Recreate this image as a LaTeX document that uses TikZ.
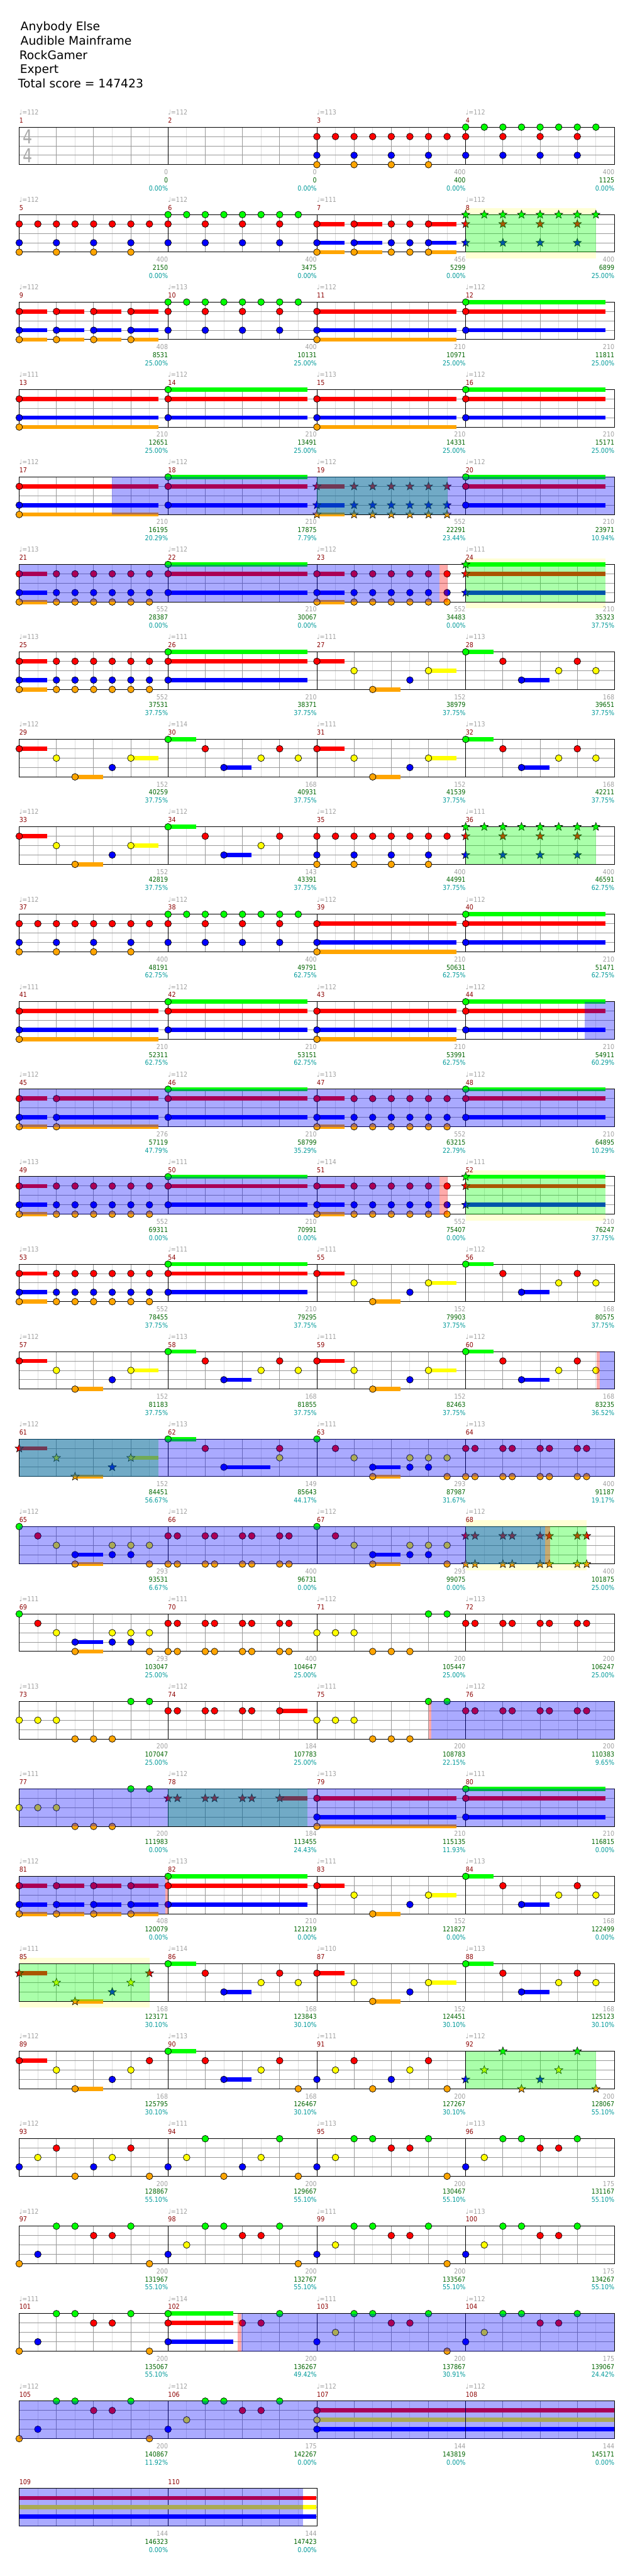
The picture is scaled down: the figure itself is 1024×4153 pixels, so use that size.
\documentclass[tikz,border=0pt]{standalone}
\usepackage{fontspec}
\setmainfont{DejaVu Sans}
\newfontfamily\numfont[FakeStretch=0.88]{DejaVu Sans}
\newfontfamily\sigfont[FakeStretch=0.78]{DejaVu Sans}
\usetikzlibrary{shapes.geometric}

\definecolor{lane0}{RGB}{0,255,0}
\definecolor{lane1}{RGB}{255,0,0}
\definecolor{lane2}{RGB}{255,255,0}
\definecolor{lane3}{RGB}{0,0,255}
\definecolor{lane4}{RGB}{255,165,0}
\definecolor{gridDark}{RGB}{153,153,153}
\definecolor{gridLight}{RGB}{221,221,221}
\definecolor{txtGray}{RGB}{160,160,160}
\definecolor{sigGray}{RGB}{170,170,170}
\definecolor{barRed}{RGB}{139,0,0}
\definecolor{scoreGreen}{RGB}{0,100,0}
\definecolor{pctCyan}{RGB}{0,153,153}
\definecolor{spYellow}{RGB}{255,255,213}

\newcommand\numsize{\numfont\fontsize{11}{13}\selectfont}
\newcommand\lanesep{15.125}

% note patterns: position (eighths) / {lanes}
\def\pRedEighths{0/{1,3,4},1/{1},2/{1,3,4},3/{1},4/{1,3,4},5/{1},6/{1,3,4},7/{1}}
\def\pGreenEighths{0/{0,1,3},1/{0},2/{0,1,3},3/{0},4/{0,1,3},5/{0},6/{0,1,3},7/{0}}
\def\pStab{0/{1,3,4},2/{1,3,4},4/{1,3,4},5/{1,3,4},6/{1,3,4}}
\def\sStab{0/1.5/{1,3,4},2/3.5/{1,3,4},6/7.5/{1,3,4}}
\def\pQuarters{0/{1,3,4},2/{1,3,4},4/{1,3,4},6/{1,3,4}}
\def\sQuarters{0/1.5/{1,3,4},2/3.5/{1,3,4},4/5.5/{1,3,4},6/7.5/{1,3,4}}
\def\pLowChord{0/{1,3,4}}
\def\sLowChord{0/7.5/{1,3,4}}
\def\pHighChord{0/{0,1,3}}
\def\sHighChord{0/7.5/{0,1,3}}
\def\pRun{0/{1,3,4},2/{1,3,4},3/{1,3,4},4/{1,3,4},5/{1,3,4},6/{1,3,4},7/{1,3,4}}
\def\sRun{0/1.5/{1,3,4}}
\def\pArpA{0/{1},2/{2},3/{4},5/{3},6/{2}}
\def\sArpA{0/1.5/{1},3/4.5/{4},6/7.5/{2}}
\def\pArpB{0/{0},2/{1},3/{3},5/{2},6/{1},7/{2}}
\def\pArpBshort{0/{0},2/{1},3/{3},5/{2},6/{1}}
\def\sArpB{0/1.5/{0},3/4.5/{3}}
\def\pArpC{0/{1},2/{2},3/{4},5/{3},6/{2},7/{1}}
\def\sArpC{0/1.5/{1},3/4.5/{4}}
\def\pSync{0/{0},1/{1},2/{2},3/{3,4},5/{2,3},6/{2,3},7/{2,4}}
\def\sSync{3/4.5/{3,4}}
\def\pDouble{0/{1,4},0.5/{1,4},2/{1,4},2.5/{1,4},4/{1,4},4.5/{1,4},6/{1,4},6.5/{1,4}}
\def\pRedDouble{0/{1},0.5/{1},2/{1},2.5/{1},4/{1},4.5/{1},6/{1},6.5/{1}}
\def\pRedTail{0/{1},0.5/{1},2/{1},2.5/{1},4/{1},4.5/{1},6/{1}}
\def\pTriple{0/{2},1/{2},2/{2},3/{4},4/{4},5/{4},6/{0},7/{0}}
\def\pWalkR{0/{3},1/{2},2/{1},3/{4},4/{3},5/{2},6/{1},7/{4}}
\def\pWalkG{0/{3},1/{2},2/{0},3/{4},4/{3},5/{2},6/{0},7/{4}}
\def\pHighA{0/{3},1/{2},2/{0},3/{0},4/{1},5/{1},6/{0},7/{4}}
\def\pHighB{0/{3},1/{2},2/{0},3/{0},4/{1},5/{1},6/{0}}
\def\pHighC{0/{4},1/{3},2/{0},3/{0},4/{1},5/{1},6/{0},7/{4}}

% #1 bar, #2 tempo, #3 points, #4 score, #5 percent, #6 notes, #7 star notes, #8 holds
\newcommand\measure[8]{%
  \pgfmathtruncatemacro\mcol{mod(#1-1,4)}%
  \pgfmathtruncatemacro\mrow{(#1-1)/4}%
  \pgfmathsetmacro\mx{31+240*\mcol}%
  \pgfmathsetmacro\my{205+141*\mrow}%
  \foreach \k in {1,3,5,7}
    \draw[gridLight,line width=0.9pt] ({\mx+30*\k},\my) -- ++(0,60.5);
  \foreach \k in {2,4,6}
    \draw[gridDark,line width=0.9pt] ({\mx+30*\k},\my) -- ++(0,60.5);
  \foreach \k in {1,2,3}
    \draw[gridDark,line width=0.9pt] (\mx,{\my+\lanesep*\k}) -- ++(240,0);
  \draw[line width=1pt] (\mx,\my) rectangle ++(240,60.5);
  \def\tempoval{#2}%
  \ifx\tempoval\empty\else
    \node[tempolbl] (tempo#1) at (\mx,\my-20) {♩=#2};%
  \fi
  \node[barlbl] (bar#1) at (\mx,\my-7) {#1};
  \node[ptslbl] (pts#1) at ({\mx+240},\my+76.5) {#3};
  \node[scorelbl] (score#1) at ({\mx+240},\my+89.5) {#4};
  \node[pctlbl] (pct#1) at ({\mx+240},\my+102.5) {#5};
  \edef\holdlist{#8}%
  \ifx\holdlist\empty\else
    \foreach \ha/\hb/\hq in \holdlist {%
      \edef\lanes{\hq}%
      \foreach \lane in \lanes
        \fill[lane\lane] ({\mx+30*\ha},{\my+\lanesep*\lane-3.4}) rectangle ({\mx+30*\hb},{\my+\lanesep*\lane+3.4});
    }%
  \fi
  \edef\notelist{#6}%
  \ifx\notelist\empty\else
    \foreach \np/\nq [count=\ni] in \notelist {%
      \edef\lanes{\nq}%
      \foreach \lane in \lanes
        \node[notehead,fill=lane\lane] (note#1-\ni-\lane) at ({\mx+30*\np},{\my+\lanesep*\lane}) {};
    }%
  \fi
  \edef\starlist{#7}%
  \ifx\starlist\empty\else
    \foreach \np/\nq [count=\ni] in \starlist {%
      \edef\lanes{\nq}%
      \foreach \lane in \lanes
        \node[starhead,fill=lane\lane] (star#1-\ni-\lane) at ({\mx+30*\np},{\my+\lanesep*\lane}) {};
    }%
  \fi
}

% zones: #1 row, #2 left x, #3 right x
\newcommand\spglow[3]{\pgfmathsetmacro\ry{205+141*#1}%
  \fill[spYellow] (#2,\ry-10) rectangle (#3,\ry+70.5);
  \fill[white] (#2,\ry) rectangle (#3,\ry+60.5);}
\newcommand\spzone[3]{\pgfmathsetmacro\ry{205+141*#1}%
  \fill[lane0,fill opacity=0.333] (#2,\ry) rectangle (#3,\ry+60.5);}
\newcommand\actzone[3]{\pgfmathsetmacro\ry{205+141*#1}%
  \fill[lane3,fill opacity=0.333] (#2,\ry) rectangle (#3,\ry+60.5);}
\newcommand\pinkzone[3]{\pgfmathsetmacro\ry{205+141*#1}%
  \fill[lane1,fill opacity=0.333] (#2,\ry) rectangle (#3,\ry+60.5);}

\begin{document}
\begin{tikzpicture}[x=1pt,y=-1pt,
  notehead/.style={circle,draw=black,line width=0.7pt,minimum size=10.8pt,inner sep=0pt},
  starhead/.style={star,star points=5,star point ratio=2.4,draw=black,line width=0.6pt,minimum size=14pt,inner sep=0pt},
  tempolbl/.style={anchor=base west,inner sep=0pt,font=\numsize,text=txtGray},
  barlbl/.style={anchor=base west,inner sep=0pt,font=\numsize,text=barRed},
  ptslbl/.style={anchor=base east,inner sep=0pt,font=\numsize,text=txtGray},
  scorelbl/.style={anchor=base east,inner sep=0pt,font=\numsize,text=scoreGreen},
  pctlbl/.style={anchor=base east,inner sep=0pt,font=\numsize,text=pctCyan},
  titlelbl/.style={anchor=base west,inner sep=0pt,font=\fontsize{19}{22}\selectfont},
  timesig/.style={inner sep=0pt,font=\sigfont\fontsize{31}{31}\selectfont,text=sigGray}]

  \useasboundingbox (0,0) rectangle (1024,4153);

  % header
  \node[titlelbl] (song)   at (33,49)  {Anybody Else};
  \node[titlelbl] (artist) at (33,72)  {Audible Mainframe};
  \node[titlelbl] (author) at (31,96)  {RockGamer};
  \node[titlelbl] (level)  at (32,118) {Expert};
  \node[titlelbl] (total)  at (29,141) {Total score = 147423};

  % star power glow behind the staff
  \spglow{1}{751}{961}
  \spglow{5}{751}{976}
  \spglow{12}{751}{976}
  \spglow{16}{751}{946}
  \spglow{21}{31}{241}

  % bars
  \measure{1}{112}{0}{0}{0.00\%}{}{}{}
  \measure{2}{112}{0}{0}{0.00\%}{}{}{}
  \measure{3}{113}{400}{400}{0.00\%}{\pRedEighths}{}{}
  \measure{4}{112}{400}{1125}{0.00\%}{\pGreenEighths}{}{}
  \measure{5}{112}{400}{2150}{0.00\%}{\pRedEighths}{}{}
  \measure{6}{112}{400}{3475}{0.00\%}{\pGreenEighths}{}{}
  \measure{7}{111}{456}{5299}{0.00\%}{\pStab}{}{\sStab}
  \measure{8}{112}{400}{6899}{25.00\%}{}{\pGreenEighths}{}
  \measure{9}{112}{408}{8531}{25.00\%}{\pQuarters}{}{\sQuarters}
  \measure{10}{113}{400}{10131}{25.00\%}{\pGreenEighths}{}{}
  \measure{11}{112}{210}{10971}{25.00\%}{\pLowChord}{}{\sLowChord}
  \measure{12}{112}{210}{11811}{25.00\%}{\pHighChord}{}{\sHighChord}
  \measure{13}{111}{210}{12651}{25.00\%}{\pLowChord}{}{\sLowChord}
  \measure{14}{112}{210}{13491}{25.00\%}{\pHighChord}{}{\sHighChord}
  \measure{15}{113}{210}{14331}{25.00\%}{\pLowChord}{}{\sLowChord}
  \measure{16}{112}{210}{15171}{25.00\%}{\pHighChord}{}{\sHighChord}
  \measure{17}{112}{210}{16195}{20.29\%}{\pLowChord}{}{\sLowChord}
  \measure{18}{112}{210}{17875}{7.79\%}{\pHighChord}{}{\sHighChord}
  \measure{19}{112}{552}{22291}{23.44\%}{}{\pRun}{\sRun}
  \measure{20}{112}{210}{23971}{10.94\%}{\pHighChord}{}{\sHighChord}
  \measure{21}{113}{552}{28387}{0.00\%}{\pRun}{}{\sRun}
  \measure{22}{112}{210}{30067}{0.00\%}{\pHighChord}{}{\sHighChord}
  \measure{23}{112}{552}{34483}{0.00\%}{\pRun}{}{\sRun}
  \measure{24}{111}{210}{35323}{37.75\%}{}{\pHighChord}{\sHighChord}
  \measure{25}{113}{552}{37531}{37.75\%}{\pRun}{}{\sRun}
  \measure{26}{111}{210}{38371}{37.75\%}{\pHighChord}{}{\sHighChord}
  \measure{27}{111}{152}{38979}{37.75\%}{\pArpA}{}{\sArpA}
  \measure{28}{113}{168}{39651}{37.75\%}{\pArpB}{}{\sArpB}
  \measure{29}{112}{152}{40259}{37.75\%}{\pArpA}{}{\sArpA}
  \measure{30}{114}{168}{40931}{37.75\%}{\pArpB}{}{\sArpB}
  \measure{31}{111}{152}{41539}{37.75\%}{\pArpA}{}{\sArpA}
  \measure{32}{113}{168}{42211}{37.75\%}{\pArpB}{}{\sArpB}
  \measure{33}{112}{152}{42819}{37.75\%}{\pArpA}{}{\sArpA}
  \measure{34}{112}{143}{43391}{37.75\%}{\pArpBshort}{}{\sArpB}
  \measure{35}{112}{400}{44991}{37.75\%}{\pRedEighths}{}{}
  \measure{36}{111}{400}{46591}{62.75\%}{}{\pGreenEighths}{}
  \measure{37}{112}{400}{48191}{62.75\%}{\pRedEighths}{}{}
  \measure{38}{112}{400}{49791}{62.75\%}{\pGreenEighths}{}{}
  \measure{39}{112}{210}{50631}{62.75\%}{\pLowChord}{}{\sLowChord}
  \measure{40}{112}{210}{51471}{62.75\%}{\pHighChord}{}{\sHighChord}
  \measure{41}{111}{210}{52311}{62.75\%}{\pLowChord}{}{\sLowChord}
  \measure{42}{112}{210}{53151}{62.75\%}{\pHighChord}{}{\sHighChord}
  \measure{43}{112}{210}{53991}{62.75\%}{\pLowChord}{}{\sLowChord}
  \measure{44}{112}{210}{54911}{60.29\%}{\pHighChord}{}{\sHighChord}
  \measure{45}{112}{276}{57119}{47.79\%}{0/{1,3,4},2/{1,3,4}}{}{0/1.5/{1,3,4},2/7.5/{1,3,4}}
  \measure{46}{112}{210}{58799}{35.29\%}{\pHighChord}{}{\sHighChord}
  \measure{47}{113}{552}{63215}{22.79\%}{\pRun}{}{\sRun}
  \measure{48}{112}{210}{64895}{10.29\%}{\pHighChord}{}{\sHighChord}
  \measure{49}{113}{552}{69311}{0.00\%}{\pRun}{}{\sRun}
  \measure{50}{111}{210}{70991}{0.00\%}{\pHighChord}{}{\sHighChord}
  \measure{51}{114}{552}{75407}{0.00\%}{\pRun}{}{\sRun}
  \measure{52}{111}{210}{76247}{37.75\%}{}{\pHighChord}{\sHighChord}
  \measure{53}{113}{552}{78455}{37.75\%}{\pRun}{}{\sRun}
  \measure{54}{111}{210}{79295}{37.75\%}{\pHighChord}{}{\sHighChord}
  \measure{55}{111}{152}{79903}{37.75\%}{\pArpA}{}{\sArpA}
  \measure{56}{112}{168}{80575}{37.75\%}{\pArpB}{}{\sArpB}
  \measure{57}{112}{152}{81183}{37.75\%}{\pArpA}{}{\sArpA}
  \measure{58}{113}{168}{81855}{37.75\%}{\pArpB}{}{\sArpB}
  \measure{59}{111}{152}{82463}{37.75\%}{\pArpA}{}{\sArpA}
  \measure{60}{112}{168}{83235}{36.52\%}{\pArpB}{}{\sArpB}
  \measure{61}{112}{152}{84451}{56.67\%}{}{\pArpA}{\sArpA}
  \measure{62}{113}{149}{85643}{44.17\%}{0/{0},2/{1},3/{3},6/{1,2}}{}{0/1.5/{0},3/5.5/{3}}
  \measure{63}{111}{293}{87987}{31.67\%}{\pSync}{}{\sSync}
  \measure{64}{113}{400}{91187}{19.17\%}{\pDouble}{}{}
  \measure{65}{112}{293}{93531}{6.67\%}{\pSync}{}{\sSync}
  \measure{66}{112}{400}{96731}{0.00\%}{\pDouble}{}{}
  \measure{67}{112}{293}{99075}{0.00\%}{\pSync}{}{\sSync}
  \measure{68}{112}{400}{101875}{25.00\%}{}{\pDouble}{}
  \measure{69}{111}{293}{103047}{25.00\%}{\pSync}{}{\sSync}
  \measure{70}{111}{400}{104647}{25.00\%}{\pDouble}{}{}
  \measure{71}{112}{200}{105447}{25.00\%}{\pTriple}{}{}
  \measure{72}{113}{200}{106247}{25.00\%}{\pRedDouble}{}{}
  \measure{73}{113}{200}{107047}{25.00\%}{\pTriple}{}{}
  \measure{74}{112}{184}{107783}{25.00\%}{\pRedTail}{}{6/7.5/{1}}
  \measure{75}{111}{200}{108783}{22.15\%}{\pTriple}{}{}
  \measure{76}{112}{200}{110383}{9.65\%}{\pRedDouble}{}{}
  \measure{77}{111}{200}{111983}{0.00\%}{\pTriple}{}{}
  \measure{78}{112}{184}{113455}{24.43\%}{}{\pRedTail}{6/7.5/{1}}
  \measure{79}{113}{210}{115135}{11.93\%}{\pLowChord}{}{\sLowChord}
  \measure{80}{111}{210}{116815}{0.00\%}{\pHighChord}{}{\sHighChord}
  \measure{81}{112}{408}{120079}{0.00\%}{\pQuarters}{}{\sQuarters}
  \measure{82}{113}{210}{121219}{0.00\%}{\pHighChord}{}{\sHighChord}
  \measure{83}{111}{152}{121827}{0.00\%}{\pArpA}{}{\sArpA}
  \measure{84}{113}{168}{122499}{0.00\%}{\pArpB}{}{\sArpB}
  \measure{85}{111}{168}{123171}{30.10\%}{}{\pArpC}{\sArpC}
  \measure{86}{114}{168}{123843}{30.10\%}{\pArpB}{}{\sArpB}
  \measure{87}{110}{152}{124451}{30.10\%}{\pArpA}{}{\sArpA}
  \measure{88}{113}{168}{125123}{30.10\%}{\pArpB}{}{\sArpB}
  \measure{89}{112}{168}{125795}{30.10\%}{\pArpC}{}{\sArpC}
  \measure{90}{113}{168}{126467}{30.10\%}{0/{0},2/{1},3/{3},5/{2},6/{1},7/{4}}{}{\sArpB}
  \measure{91}{111}{200}{127267}{30.10\%}{\pWalkR}{}{}
  \measure{92}{112}{200}{128067}{55.10\%}{}{\pWalkG}{}
  \measure{93}{112}{200}{128867}{55.10\%}{\pWalkR}{}{}
  \measure{94}{111}{200}{129667}{55.10\%}{\pWalkG}{}{}
  \measure{95}{113}{200}{130467}{55.10\%}{\pHighA}{}{}
  \measure{96}{113}{175}{131167}{55.10\%}{\pHighB}{}{}
  \measure{97}{112}{200}{131967}{55.10\%}{\pHighC}{}{}
  \measure{98}{112}{200}{132767}{55.10\%}{\pHighA}{}{}
  \measure{99}{111}{200}{133567}{55.10\%}{\pHighA}{}{}
  \measure{100}{113}{175}{134267}{55.10\%}{\pHighB}{}{}
  \measure{101}{111}{200}{135067}{55.10\%}{\pHighC}{}{}
  \measure{102}{114}{200}{136267}{49.42\%}{0/{0,1,3},4/{1},5/{1},6/{0}}{}{0/3.5/{0,1,3}}
  \measure{103}{111}{200}{137867}{30.91\%}{\pHighA}{}{}
  \measure{104}{112}{175}{139067}{24.42\%}{\pHighB}{}{}
  \measure{105}{112}{200}{140867}{11.92\%}{\pHighC}{}{}
  \measure{106}{112}{175}{142267}{0.00\%}{\pHighB}{}{}
  \measure{107}{112}{144}{143819}{0.00\%}{0/{1,2,3}}{}{0/8/{1,2,3}}
  \measure{108}{112}{144}{145171}{0.00\%}{}{}{0/8/{1,2,3}}
  \measure{109}{}{144}{146323}{0.00\%}{}{}{0/8/{1,2,3}}
  \measure{110}{}{144}{147423}{0.00\%}{}{}{0/7.97/{1,2,3}}

  % time signature
  \node[timesig] (sigtop) at (44.5,220.5) {4};
  \node[timesig] (sigbot) at (44.5,250.5) {4};

  % star power phrases
  \spzone{1}{751}{961}
  \spzone{4}{511}{722}
  \spzone{5}{751}{976}
  \spzone{8}{751}{961}
  \spzone{12}{751}{976}
  \spzone{15}{31}{256}
  \spzone{16}{751}{946}
  \spzone{19}{271}{496}
  \spzone{21}{31}{241}
  \spzone{22}{751}{961}

  % star power activations
  \actzone{4}{180}{991}
  \actzone{5}{31}{709}
  \pinkzone{5}{709}{722}
  \actzone{10}{943}{991}
  \actzone{11}{31}{991}
  \actzone{12}{31}{709}
  \pinkzone{12}{709}{722}
  \pinkzone{14}{962}{967}
  \actzone{14}{967}{991}
  \actzone{15}{31}{991}
  \actzone{16}{31}{879}
  \pinkzone{16}{879}{887}
  \pinkzone{18}{691}{696}
  \actzone{18}{696}{991}
  \actzone{19}{31}{991}
  \actzone{20}{31}{267}
  \pinkzone{20}{267}{271}
  \pinkzone{25}{383}{389}
  \actzone{25}{389}{991}
  \actzone{26}{31}{991}
  \actzone{27}{31}{489}
\end{tikzpicture}
\end{document}
